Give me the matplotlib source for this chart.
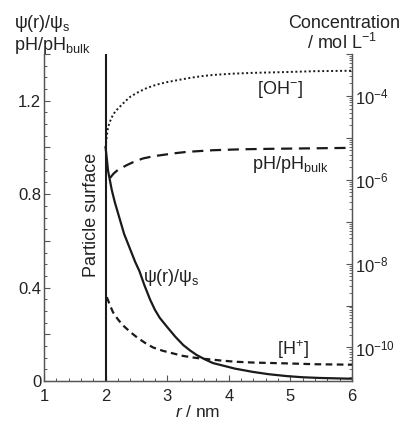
import matplotlib
matplotlib.use('Agg')
import matplotlib.pyplot as plt
from matplotlib.ticker import MultipleLocator, FixedLocator, FuncFormatter, NullFormatter
import numpy as np

plt.rcParams['font.family'] = ['Liberation Sans', 'DejaVu Sans']
plt.rcParams['mathtext.fontset'] = 'custom'
plt.rcParams['mathtext.rm'] = 'Liberation Sans'
plt.rcParams['mathtext.it'] = 'Liberation Sans:italic'

# values
r_psi = [2.0, 2.04, 2.10, 2.15, 2.20, 2.25, 2.30, 2.36, 2.42, 2.48, 2.55, 2.63, 2.72, 2.80, 2.88, 3.0,
         3.13, 3.26, 3.37, 3.48, 3.61, 3.74, 3.86, 4.1, 4.39, 4.65, 4.94, 5.2, 5.48, 5.94, 6.0]
psi = [1.0, 0.90, 0.818, 0.765, 0.72, 0.675, 0.63, 0.59, 0.55, 0.51, 0.47, 0.41, 0.35, 0.305, 0.27, 0.231,
       0.19, 0.154, 0.131, 0.111, 0.093, 0.077, 0.069, 0.053, 0.039, 0.029, 0.021, 0.016, 0.013, 0.01, 0.01]

r_ph = [2.07, 2.13, 2.20, 2.35, 2.48, 2.61, 2.77, 2.93, 3.12, 3.32, 3.74, 4.2, 4.67, 5.3, 5.94, 6.0]
ph_ratio = [0.869, 0.888, 0.904, 0.925, 0.941, 0.953, 0.962, 0.968, 0.975, 0.981, 0.988, 0.992, 0.994, 0.996, 0.998, 0.998]

r_oh = [2.0, 2.01, 2.02, 2.04, 2.08, 2.12, 2.17, 2.23, 2.31, 2.40, 2.53, 2.67, 2.83, 3.0, 3.18, 3.37,
        3.55, 3.74, 4.05, 4.39, 4.94, 5.4, 5.94, 6.0]
log_oh = [-5.24, -5.08, -4.95, -4.74, -4.58, -4.45, -4.35, -4.26, -4.14, -4.02, -3.91, -3.81, -3.73, -3.67,
          -3.62, -3.57, -3.53, -3.50, -3.47, -3.45, -3.43, -3.41, -3.40, -3.40]

r_h = [2.02, 2.07, 2.12, 2.20, 2.28, 2.40, 2.51, 2.64, 2.77, 2.93, 3.09, 3.25, 3.42, 3.58, 3.74, 3.86,
       4.1, 4.39, 4.94, 5.4, 5.94, 6.0]
log_h = [-8.80, -8.99, -9.16, -9.33, -9.47, -9.63, -9.76, -9.89, -10.0, -10.08, -10.14, -10.20, -10.24,
         -10.27, -10.29, -10.31, -10.34, -10.36, -10.38, -10.40, -10.41, -10.41]

ink = '#1a1a1a'
txt = '#222222'

fig = plt.figure(figsize=(4.01, 4.21), dpi=100)
ax = fig.add_axes([44/401, 40/421, 308/401, 327/421])
ax2 = ax.twinx()

ax.set_xlim(1, 6)
ax.set_ylim(0, 1.4)
ax2.set_yscale('log')
ax2.set_ylim(10**-10.8, 10**-3.0)

ax.axvline(2, color=ink, lw=1.5)
ax.plot(r_psi, psi, color=ink, lw=1.6)
ax.plot(r_ph, ph_ratio, color=ink, lw=1.6, ls=(0, (5, 3)))
ax2.plot(r_oh, 10**np.array(log_oh), color=ink, lw=1.4, ls=(0, (1, 1.3)))
ax2.plot(r_h, 10**np.array(log_h), color=ink, lw=1.6, ls=(0, (3, 2)))

for a in (ax, ax2):
    a.spines['top'].set_visible(False)
    for s in a.spines.values():
        s.set_color('#555555')
        s.set_linewidth(0.9)

ax.xaxis.set_major_locator(MultipleLocator(1))
ax.xaxis.set_minor_locator(MultipleLocator(0.2))
ax.yaxis.set_major_locator(MultipleLocator(0.2))
ax.yaxis.set_minor_locator(MultipleLocator(0.05))
ax.yaxis.set_major_formatter(FuncFormatter(
    lambda v, p: ('0' if abs(v) < 1e-9 else '%.1f' % v) if abs(round(v / 0.4) * 0.4 - v) < 1e-6 else ''))
ax.tick_params(which='both', direction='in', colors='#555555', labelcolor=txt, labelsize=12)
ax.tick_params(which='major', length=4, width=0.8)
ax.tick_params(which='minor', length=2.5, width=0.7)
ax.tick_params(axis='x', pad=6)
ax.tick_params(axis='y', pad=2)

ax2.yaxis.set_major_locator(FixedLocator([10.0**e for e in range(-11, -2)]))
ax2.yaxis.set_minor_locator(FixedLocator([m * 10.0**e for e in range(-11, -2) for m in range(2, 10)]))
ax2.yaxis.set_major_formatter(FuncFormatter(
    lambda v, p: '10$^{%d}$' % round(np.log10(v)) if round(np.log10(v)) % 2 == 0 else ''))
ax2.yaxis.set_minor_formatter(NullFormatter())
ax2.tick_params(which='both', direction='in', colors='#555555', labelcolor=txt, labelsize=12, pad=2)
ax2.tick_params(which='major', length=4, width=0.8)
ax2.tick_params(which='minor', length=2, width=0.6)

ax.set_xlabel('$r$ / nm', fontsize=12.5, color=txt, labelpad=0)

fig.text(14/401, 1 - 24/421, 'ψ(r)/ψ$_\\mathrm{s}$', fontsize=13, color=txt, va='center', ha='left')
fig.text(14/401, 1 - 45/421, 'pH/pH$_\\mathrm{bulk}$', fontsize=13, color=txt, va='center', ha='left')
fig.text(400/401, 1 - 23/421, 'Concentration', fontsize=13, color=txt, va='center', ha='right')
fig.text(377/401, 1 - 43/421, '/ mol L$^{-1}$', fontsize=13, color=txt, va='center', ha='right')

ax.text(1.77, 0.71, 'Particle surface', rotation=90, fontsize=13, color=txt, ha='center', va='center')
ax.text(4.83, 1.246, '[OH$^{-}$]', fontsize=13, color=txt, ha='center', va='center')
ax.text(4.99, 0.925, 'pH/pH$_\\mathrm{bulk}$', fontsize=13, color=txt, ha='center', va='center')
ax.text(2.61, 0.445, 'ψ(r)/ψ$_\\mathrm{s}$', fontsize=13, color=txt, ha='left', va='center')
ax.text(5.04, 0.133, '[H$^{+}$]', fontsize=13, color=txt, ha='center', va='center')

fig.savefig('out.png', dpi=100)
